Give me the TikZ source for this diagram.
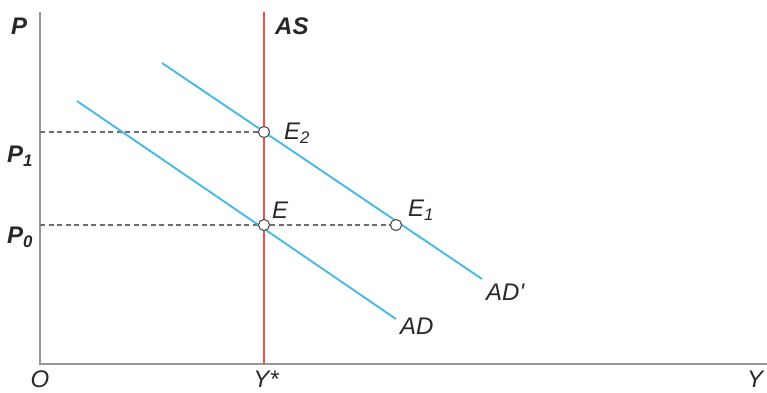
\documentclass[tikz,border=0pt]{standalone}
\usepackage{fontspec}
\setmainfont{Liberation Sans}[Ligatures=TeXOff]
\definecolor{adblue}{RGB}{70,185,230}
\definecolor{asred}{RGB}{232,85,75}
\definecolor{axgray}{RGB}{150,150,150}
\definecolor{dashgray}{RGB}{110,110,110}
\definecolor{txt}{RGB}{40,40,40}
\begin{document}
\begin{tikzpicture}[x=1pt,y=-1pt,
  axis/.style={draw=axgray,line width=1.6pt},
  adline/.style={draw=adblue,line width=1.9pt},
  asline/.style={draw=asred,line width=1.5pt},
  guide/.style={draw=dashgray,line width=1.2pt,dash pattern=on 5pt off 3.5pt},
  eq/.style={circle,draw=txt!80,fill=white,line width=1pt,minimum size=11pt,inner sep=0pt},
  lab/.style={font=\fontsize{24}{24}\selectfont\itshape,text=txt,inner sep=0pt},
  blab/.style={lab,font=\fontsize{24}{24}\selectfont\bfseries\itshape}]
\useasboundingbox (0,0) rectangle (767,392);
% axes
\coordinate (ytop) at (40,12);
\coordinate (orig) at (40,364);
\coordinate (xend) at (767,364);
\draw[axis] (ytop) -- (orig) -- (xend);
% AS
\coordinate (astop) at (264,12);
\coordinate (asbot) at (264,364);
% AD lines
\coordinate (ad1) at (77,101);
\coordinate (ad2) at (396,319);
\coordinate (adp1) at (162,63);
\coordinate (adp2) at (482,279);
% equilibrium points
\node[eq] (E2) at (264,132) {};
\node[eq] (E) at (264,225) {};
\node[eq] (E1) at (396,225) {};
\coordinate (p1) at (40,132);
\coordinate (p0) at (40,225);
\draw[guide] (p1) -- (E2.west);
\draw[guide] (p0) -- (E.west);
\draw[guide] (E.east) -- (E1.west);
\draw[asline] (astop) -- (asbot);
\draw[adline] (ad1) -- (ad2);
\draw[adline] (adp1) -- (adp2);
\node[eq] at (E2) {};
\node[eq] at (E) {};
\node[eq] at (E1) {};
% labels
\node[blab,anchor=west] (lP) at (11,26) {P};
\node[blab,anchor=west] (lP1) at (7,156) {P\textsubscript{1}};
\node[blab,anchor=west] (lP0) at (7,237) {P\textsubscript{0}};
\node[blab,anchor=west] (lAS) at (275,26) {AS};
\node[lab,anchor=west] (lE2) at (284,133) {E\textsubscript{2}};
\node[lab,anchor=west] (lE) at (272,210) {E};
\node[lab,anchor=west] (lE1) at (408,210) {E\textsubscript{1}};
\node[lab,anchor=west] (lADp) at (486,292) {AD'};
\node[lab,anchor=west] (lAD) at (400,326) {AD};
\node[lab,anchor=base] (lO) at (40,387) {O};
\node[lab,anchor=base] (lYs) at (266,387) {Y*};
\node[lab,anchor=base west] (lY) at (747,387) {Y};
\end{tikzpicture}
\end{document}
